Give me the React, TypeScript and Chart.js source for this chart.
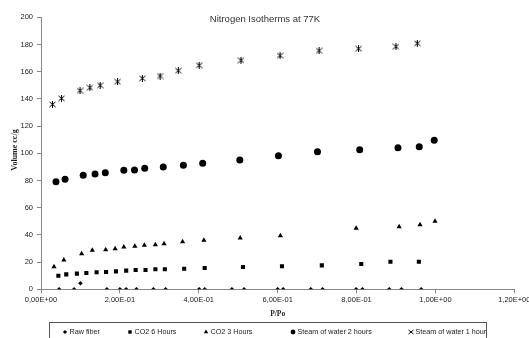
import React, { useEffect, useRef } from 'react';
import { Chart, registerables } from 'chart.js';
import { drawPoint } from 'chart.js/helpers';

Chart.register(...registerables);

const seriesNames = ['Raw fiber', 'CO2 6 Hours', 'CO2 3 Hours', 'Steam of water 2 hours', 'Steam of water 1 hour'];

const rawFiberX = [0.046, 0.084, 0.100, 0.167, 0.200, 0.216, 0.242, 0.285, 0.316, 0.401, 0.415, 0.484, 0.515, 0.600, 0.614, 0.684, 0.714, 0.799, 0.815, 0.883, 0.914, 0.964];
const rawFiberY = [0, 0, 4.5, 0, 0, 0, 0, 0, 0, 0, 0, 0, 0, 0, 0, 0, 0, 0, 0, 0, 0, 0];

const co2SixX = [0.044, 0.064, 0.091, 0.115, 0.141, 0.165, 0.190, 0.216, 0.240, 0.265, 0.290, 0.314, 0.363, 0.415, 0.512, 0.611, 0.712, 0.812, 0.886, 0.958];
const co2SixY = [10.0, 11.0, 11.5, 12.0, 12.5, 12.7, 13.2, 13.7, 14.2, 14.2, 14.7, 14.7, 15.1, 15.7, 16.4, 16.9, 17.6, 18.6, 20.3, 20.3];

const co2ThreeX = [0.033, 0.058, 0.103, 0.130, 0.164, 0.188, 0.210, 0.238, 0.262, 0.290, 0.312, 0.359, 0.413, 0.505, 0.607, 0.799, 0.908, 0.961, 0.999];
const co2ThreeY = [16.6, 21.5, 26.2, 28.7, 29.1, 29.9, 31.1, 31.6, 32.4, 32.8, 33.5, 35.0, 36.0, 37.7, 39.4, 44.9, 46.0, 47.5, 50.0];

const steamTwoX = [0.038, 0.061, 0.107, 0.137, 0.163, 0.210, 0.237, 0.263, 0.310, 0.361, 0.410, 0.504, 0.602, 0.701, 0.808, 0.905, 0.959, 0.997];
const steamTwoY = [79.1, 80.9, 83.8, 84.8, 85.7, 87.5, 87.7, 89.0, 89.9, 91.2, 92.6, 95.1, 98.2, 101.2, 102.6, 104.1, 104.9, 109.6];

const steamOneX = [0.029, 0.052, 0.099, 0.124, 0.150, 0.194, 0.257, 0.302, 0.348, 0.401, 0.507, 0.606, 0.705, 0.805, 0.900, 0.954];
const steamOneY = [136.0, 140.4, 146.0, 148.2, 150.0, 152.6, 155.1, 156.8, 160.7, 164.7, 168.4, 171.8, 175.4, 176.9, 178.4, 180.9];

const xMin = 0;
const xMax = 1.2;
const xStep = 0.2;
const yMin = 0;
const yMax = 200;
const yStep = 20;

const chartTitle = 'Nitrogen Isotherms at 77K';
const xTitle = 'P/Po';
const yTitle = 'Volume cc/g';

function fmtSci(v: number): string {
  const [m, e] = v.toExponential(2).split('e');
  const n = parseInt(e, 10);
  const sign = n < 0 ? '-' : '+';
  return m.replace('.', ',') + 'E' + sign + String(Math.abs(n)).padStart(2, '0');
}

function pts(xs: number[], ys: number[]) {
  return xs.map((x, i) => ({ x, y: ys[i] }));
}

function makeStar(size: number, withBar: boolean): HTMLCanvasElement {
  const c = document.createElement('canvas');
  c.width = size;
  c.height = size;
  const g = c.getContext('2d')!;
  g.strokeStyle = '#000';
  g.lineWidth = 1;
  g.beginPath();
  g.moveTo(0.5, 1);
  g.lineTo(size - 0.5, size - 1);
  g.moveTo(size - 0.5, 1);
  g.lineTo(0.5, size - 1);
  if (withBar) {
    g.moveTo(size / 2, 0);
    g.lineTo(size / 2, size);
  }
  g.stroke();
  return c;
}

export default function App() {
  const ref = useRef<HTMLCanvasElement | null>(null);

  useEffect(() => {
    if (!ref.current) return;
    const star = makeStar(7, true);
    const starSmall = makeStar(6, false);

    const styles: any[] = [
      { pointStyle: 'rectRot', radius: 2.3, legendRadius: 2.1 },
      { pointStyle: 'rect', radius: 2.9, legendRadius: 2.4 },
      { pointStyle: 'triangle', radius: 3.0, legendRadius: 2.6 },
      { pointStyle: 'circle', radius: 3.5, legendRadius: 2.4 },
      { pointStyle: star, radius: 3, legendRadius: 3, legendStyle: starSmall },
    ];
    const allData = [
      pts(rawFiberX, rawFiberY),
      pts(co2SixX, co2SixY),
      pts(co2ThreeX, co2ThreeY),
      pts(steamTwoX, steamTwoY),
      pts(steamOneX, steamOneY),
    ];

    const legendMarkerX = [65, 130, 206, 293, 411];

    const overlay = {
      id: 'overlay',
      afterDraw(chart: any) {
        const ctx = chart.ctx as CanvasRenderingContext2D;
        ctx.save();
        ctx.fillStyle = '#333';
        ctx.font = '9.5px "Liberation Sans", Arial, sans-serif';
        ctx.textAlign = 'center';
        ctx.textBaseline = 'middle';
        ctx.fillText(chartTitle, 265, 19);
        ctx.save();
        ctx.translate(14.5, 150);
        ctx.rotate(-Math.PI / 2);
        ctx.font = 'bold 8px "Liberation Serif", "Times New Roman", serif';
        ctx.fillStyle = '#222';
        ctx.fillText(yTitle, 0, 0);
        ctx.restore();
        ctx.strokeStyle = '#555';
        ctx.lineWidth = 1;
        ctx.strokeRect(49.5, 322.5, 437, 30);
        ctx.font = '7.2px "Liberation Sans", Arial, sans-serif';
        ctx.textAlign = 'left';
        ctx.textBaseline = 'middle';
        chart.data.datasets.forEach((ds: any, i: number) => {
          const st = styles[i];
          ctx.fillStyle = '#000';
          ctx.strokeStyle = '#000';
          drawPoint(ctx, { pointStyle: st.legendStyle || st.pointStyle, radius: st.legendRadius, rotation: 0, borderWidth: 0 } as any, legendMarkerX[i], 332);
          ctx.fillStyle = '#222';
          ctx.fillText(ds.label, legendMarkerX[i] + 4.5, 332);
        });
        ctx.restore();
      },
    };

    const tickFont = { family: '"Liberation Sans", Arial, sans-serif', size: 7.5 };

    const chart = new Chart(ref.current, {
      type: 'scatter',
      data: {
        datasets: allData.map((d, i) => ({
          label: seriesNames[i],
          data: d,
          pointStyle: styles[i].pointStyle,
          pointRadius: styles[i].radius,
          pointBackgroundColor: '#000',
          pointBorderColor: '#000',
          pointBorderWidth: 0,
          backgroundColor: '#000',
          borderColor: '#000',
          showLine: false,
        })),
      },
      options: {
        animation: false,
        responsive: false,
        devicePixelRatio: 1,
        layout: { padding: { top: 17.3, right: 14.7, bottom: 15.7, left: 0 } },
        plugins: {
          legend: { display: false },
          title: { display: false },
          tooltip: { enabled: false },
        },
        scales: {
          x: {
            type: 'linear',
            min: xMin,
            max: xMax,
            ticks: {
              stepSize: xStep,
              callback: (v: any) => fmtSci(Number(v)),
              font: tickFont,
              color: '#222',
              padding: 2,
              maxRotation: 0,
              autoSkip: false,
            },
            grid: { display: true, drawOnChartArea: false, drawTicks: true, tickLength: 4, color: '#888' },
            border: { display: true, color: '#888', width: 1 },
            title: {
              display: true,
              text: xTitle,
              font: { family: '"Liberation Serif", "Times New Roman", serif', size: 7.5, weight: 'bold' },
              color: '#222',
              padding: { top: 0, bottom: 4 },
            },
            afterFit: (s: any) => {
              s.height = 33;
              s.paddingLeft = 0;
              s.paddingRight = 0;
            },
          } as any,
          y: {
            type: 'linear',
            min: yMin,
            max: yMax,
            ticks: {
              stepSize: yStep,
              font: tickFont,
              color: '#222',
              padding: 4,
            },
            grid: { display: true, drawOnChartArea: false, drawTicks: true, tickLength: 4, color: '#888' },
            border: { display: true, color: '#888', width: 1 },
            afterFit: (s: any) => {
              s.width = 41;
              s.paddingTop = 0;
              s.paddingBottom = 0;
            },
          } as any,
        },
      },
      plugins: [overlay],
    });
    return () => chart.destroy();
  }, []);

  return (
    <div style={{ position: 'absolute', left: 0, top: 0, width: 529, height: 338, background: '#fff' }}>
      <canvas ref={ref} width={529} height={338} style={{ display: 'block' }} />
    </div>
  );
}
